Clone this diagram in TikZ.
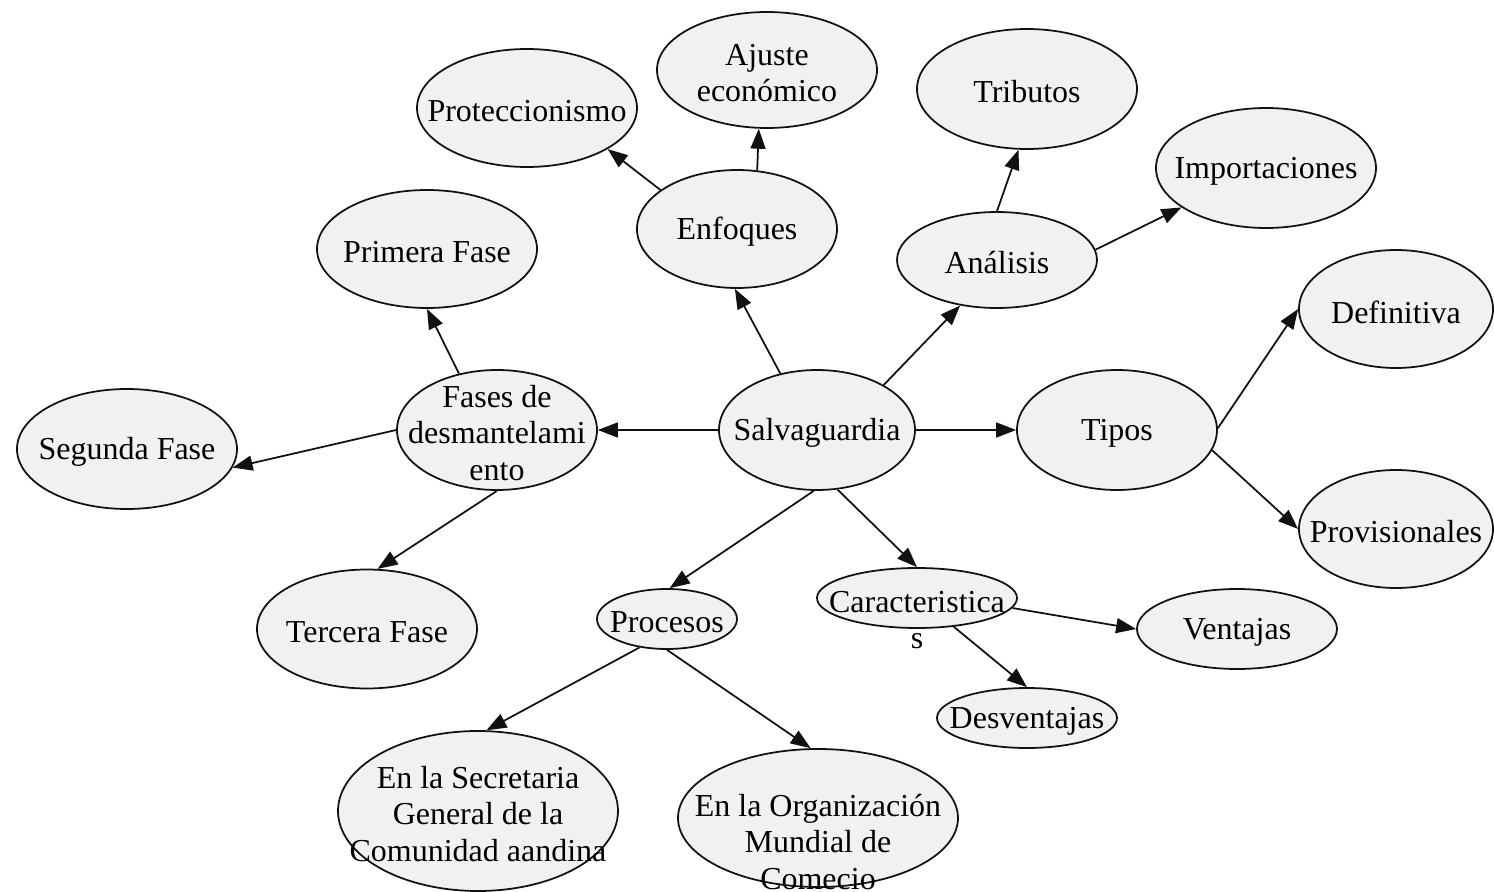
\documentclass[tikz,border=0pt]{standalone}
\usepackage{fontspec}
\setmainfont{Liberation Serif}
\usepackage{tikz}
\usetikzlibrary{arrows.meta,shapes.geometric}
\definecolor{ovalfill}{HTML}{F1F1F1}
\definecolor{edgecolor}{HTML}{111111}

\begin{document}
\begin{tikzpicture}[
    oval/.style 2 args={ellipse, draw=edgecolor, line width=0.5pt, fill=ovalfill, inner sep=0pt, minimum width=#1, minimum height=#2},
    lbl/.style={font=\fontsize{9.1}{10.3}\selectfont, align=center, inner sep=0pt, yshift=-0.03cm},
    arr/.style={-{Triangle[length=2mm, width=1.5mm]}, line width=0.5pt, edgecolor}
]
    \useasboundingbox (0,0) rectangle (14.94,8.91);

    % Centre
    \node[oval={1.96cm}{1.20cm}, label={[lbl]center:Salvaguardia}] (salv) at (8.17,4.61) {};

    % Enfoques branch
    \node[oval={2.00cm}{1.18cm}, label={[lbl]center:Enfoques}] (enf) at (7.37,6.62) {};
    \node[oval={2.20cm}{1.16cm}, label={[lbl]center:Ajuste\\económico}] (aju) at (7.67,8.21) {};
    \node[oval={2.20cm}{1.18cm}, label={[lbl]center:Proteccionismo}] (prot) at (5.27,7.83) {};

    % Analisis branch
    \node[oval={2.00cm}{0.96cm}, label={[lbl]center:Análisis}] (anal) at (9.97,6.31) {};
    \node[oval={2.20cm}{1.20cm}, label={[lbl]center:Tributos}] (trib) at (10.27,8.02) {};
    \node[oval={2.20cm}{1.20cm}, label={[lbl]center:Importaciones}] (imp) at (12.66,7.23) {};

    % Fases branch
    \node[oval={2.00cm}{1.20cm}, label={[lbl]center:Fases de\\desmantelami\\ento}] (fases) at (4.97,4.61) {};
    \node[oval={2.20cm}{1.18cm}, label={[lbl]center:Primera Fase}] (prim) at (4.27,6.42) {};
    \node[oval={2.20cm}{1.20cm}, label={[lbl]center:Segunda Fase}] (seg) at (1.27,4.42) {};
    \node[oval={2.20cm}{1.19cm}, label={[lbl]center:Tercera Fase}] (terc) at (3.67,2.62) {};

    % Tipos branch
    \node[oval={2.00cm}{1.20cm}, label={[lbl]center:Tipos}] (tipos) at (11.17,4.61) {};
    \node[oval={1.94cm}{1.18cm}, label={[lbl]center:Definitiva}] (defi) at (13.96,5.82) {};
    \node[oval={1.94cm}{1.18cm}, label={[lbl]center:Provisionales}] (prov) at (13.96,3.62) {};

    % Procesos branch
    \node[oval={1.40cm}{0.60cm}, label={[lbl]center:Procesos}] (proc) at (6.67,2.72) {};
    \node[oval={2.80cm}{1.60cm}, label={[lbl]center:En la Secretaria\\General de la\\Comunidad aandina}] (sec) at (4.78,0.80) {};
    \node[oval={2.80cm}{1.38cm}, label={[lbl,yshift=-0.21cm]center:En la Organización\\Mundial de\\Comecio}] (omc) at (8.18,0.73) {};

    % Caracteristicas branch
    \node[oval={2.00cm}{0.60cm}, label={[lbl,yshift=-0.19cm]center:Caracteristica\\s}] (car) at (9.17,2.93) {};
    \node[oval={2.00cm}{0.80cm}, label={[lbl]center:Ventajas}] (vent) at (12.37,2.62) {};
    \node[oval={1.80cm}{0.60cm}, label={[lbl]center:Desventajas}] (desv) at (10.27,1.73) {};

    % Connectors
    \foreach \a/\b in {salv.123/enf.268, salv.34/anal.231, salv.0/tipos.180, salv.180/fases.0,
                       salv.267/proc.85, salv.289/car.90,
                       enf.153/prot.333, enf.71/aju.262, anal.90/trib.262, anal.6/imp.205,
                       fases.124/prim.270, fases.180/seg.350, fases.270/terc.80,
                       tipos.1/defi.180, tipos.348/prov.180,
                       proc.226/sec.84, proc.270/omc.96,
                       car.354/vent.180, car.322/desv.90} {
        \draw[arr] (\a) -- (\b);
    }
\end{tikzpicture}
\end{document}
